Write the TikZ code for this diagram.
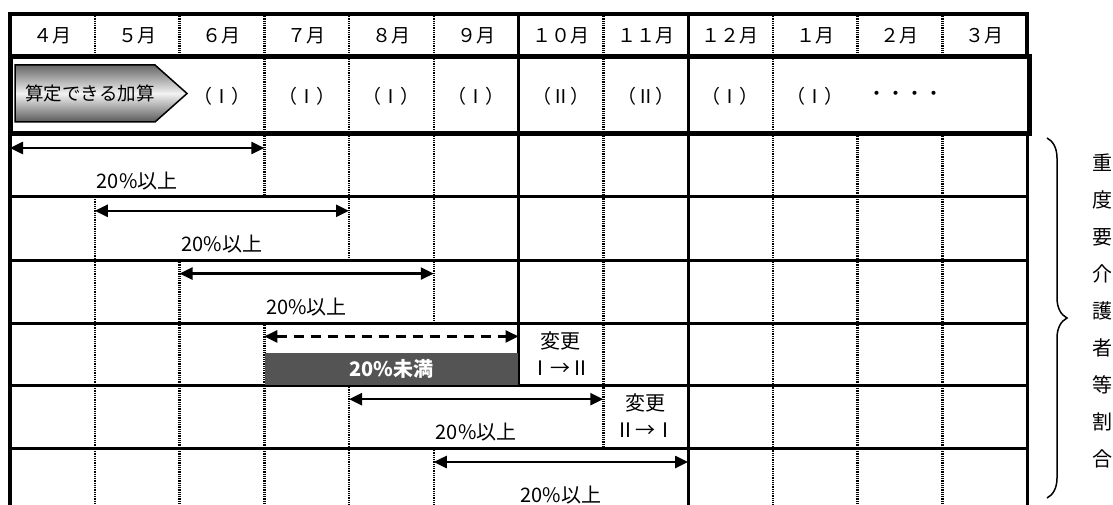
\documentclass[tikz,border=0pt]{standalone}
\usepackage{fontspec}
\setmainfont{Noto Sans CJK JP}
\usetikzlibrary{arrows.meta,decorations.pathreplacing}

\begin{document}
\begin{tikzpicture}[x=1pt, y=-1pt,
        frame/.style={line width=4pt},
        rowline/.style={line width=3pt},
        monthsep/.style={line width=2.5pt, dash pattern=on 1pt off 0.8pt},
        halfsep/.style={line width=3pt},
        span/.style={{Triangle[length=13pt,width=12pt]}-{Triangle[length=13pt,width=12pt]}, line width=2.5pt},
        month/.style={font=\fontsize{19}{19}\selectfont},
        grade/.style={font=\fontsize{19}{19}\selectfont},
        rate/.style={font=\fontsize{20}{20}\selectfont},
        change/.style={font=\fontsize{20}{27}\selectfont, align=center},
        calcshape/.style={draw=black, line width=1.5pt,
            top color=black!60, bottom color=black!65, middle color=black!5},
        lowbox/.style={fill=black!67, text=white, minimum width=253pt, minimum height=32pt,
            inner sep=0pt, font=\fontsize{20}{20}\selectfont\bfseries}
    ]
        \fill[white] (0,0) rectangle (1113,505);
        \useasboundingbox (0,0) rectangle (1113,505);

        % Month header
        \foreach \m [count=\i from 0] in {４月,５月,６月,７月,８月,９月,１０月,１１月,１２月,１月,２月,３月}
            \node[month] (m\i) at ({52.4+84.75*\i},36) {\m};

        % Grade that can be claimed
        \path[calcshape] (15,65) -- (155,65) -- (187,93.5) -- (155,122) -- (15,122) -- cycle;
        \node[font=\fontsize{18.5}{18.5}\selectfont] (calc) at (90,93) {算定できる加算};
        \foreach \i/\g in {2/（Ⅰ）,3/（Ⅰ）,4/（Ⅰ）,5/（Ⅰ）,6/（Ⅱ）,7/（Ⅱ）,8/（Ⅰ）,9/（Ⅰ）}
            \node[grade] (g\i) at ({52.4+84.75*\i},96) {\g};
        \node[grade] (gdots) at (905,96) {・・・・};

        % Month separators
        \foreach \i/\a/\b in {1/14/57, 1/197/505, 2/14/57, 2/260/505, 3/14/197, 3/323/505,
                4/14/260, 4/385/505, 5/14/323, 5/448/505, 7/14/448, 9/14/505,
                10/14/57, 10/134/505, 11/14/57, 11/134/505}
            \draw[monthsep] ({10+84.75*\i},\a) -- ({10+84.75*\i},\b);
        \draw[halfsep] (518.5,14) -- (518.5,385);
        \draw[halfsep] (688,14) -- (688,505);

        % Rows
        \foreach \y in {197,260,323,385,448}
            \draw[rowline] (10,\y) -- (1027,\y);
        \draw[frame] (8,14) -- (1029,14);
        \draw[frame] (1027,14) -- (1027,57);
        \draw[line width=5pt] (10,57) rectangle (1029,134);
        \draw[rowline] (1027,134) -- (1027,505);
        \draw[frame] (10,12) -- (10,505);

        % Ratio spans
        \foreach \r in {1,2,3,5,6} {
            \coordinate (s\r) at ({10+84.75*(\r-1)},{148+62.8*(\r-1)});
            \coordinate (e\r) at ({10+84.75*(\r+2)},{148+62.8*(\r-1)});
            \draw[span] (s\r) -- (e\r);
            \node[rate] (p\r) at ({10+84.75*(\r+0.5)},{181+62.8*(\r-1)}) {20\%以上};
        }
        \coordinate (s4) at (264.25,336.4);
        \coordinate (e4) at (518.5,336.4);
        \draw[span, dash pattern=on 10pt off 7pt] (s4) -- (e4);
        \node[lowbox] (low) at (391.5,369) {20\%未満};

        % Changes of grade
        \node[change] (chg1) at (560.6,353.5) {変更\\Ⅰ→Ⅱ};
        \node[change] (chg2) at (645.4,416) {変更\\Ⅱ→Ⅰ};

        % Side label
        \coordinate (bt) at (1047,138);
        \coordinate (bb) at (1047,498);
        \draw[decorate, decoration={brace, amplitude=20pt}, line width=1.5pt] (bt) -- (bb);
        \node[font=\fontsize{20}{37}\selectfont, align=center] (ratio) at (1102,310.5)
            {重\\度\\要\\介\\護\\者\\等\\割\\合};
    \end{tikzpicture}
\end{document}
